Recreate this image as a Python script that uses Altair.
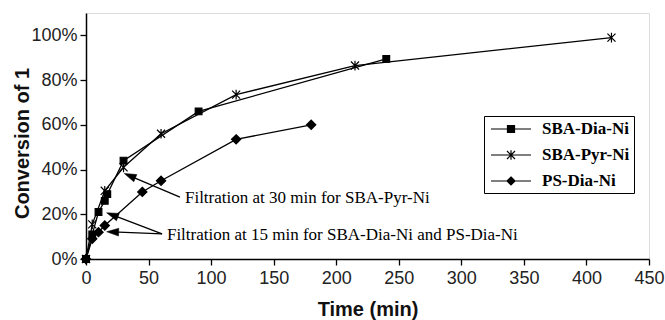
import altair as alt
import pandas as pd

# ---------------- data ----------------
series_names = ["SBA-Dia-Ni", "SBA-Pyr-Ni", "PS-Dia-Ni"]

dia_t = [0, 5, 10, 15, 17, 30, 90, 240]
dia_v = [0, 0.11, 0.21, 0.26, 0.29, 0.44, 0.66, 0.895]

pyr_t = [0, 5, 15, 30, 60, 120, 215, 420]
pyr_v = [0, 0.155, 0.305, 0.41, 0.56, 0.735, 0.865, 0.99]

ps_t = [0, 5, 10, 15, 45, 60, 120, 180]
ps_v = [0, 0.09, 0.12, 0.15, 0.30, 0.35, 0.535, 0.60]

x_ticks = [0, 50, 100, 150, 200, 250, 300, 350, 400, 450]
y_ticks = [0, 0.2, 0.4, 0.6, 0.8, 1.0]

note_text = ["Filtration at 30 min for SBA-Pyr-Ni",
             "Filtration at 15 min for SBA-Dia-Ni and PS-Dia-Ni"]
note_t = [79.1, 64.7]
note_v = [0.25, 0.085]

arrow_t = [75.1, 60.8, 60.8]
arrow_v = [0.277, 0.112, 0.112]
arrow_t2 = [35.0, 21.0, 21.3]
arrow_v2 = [0.372, 0.197, 0.121]
head_angle = [293, 291, 272]

# ---------------- tables ----------------
rows = []
for name, ts, vs in zip(series_names, [dia_t, pyr_t, ps_t], [dia_v, pyr_v, ps_v]):
    for t, v in zip(ts, vs):
        rows.append({"series": name, "t": t, "v": v})
df = pd.DataFrame(rows)

notes = pd.DataFrame({"text": note_text, "t": note_t, "v": note_v})
arrows = pd.DataFrame({"t": arrow_t, "v": arrow_v, "t2": arrow_t2,
                       "v2": arrow_v2, "angle": head_angle})

marker_paths = [
    "M-1,-1H1V1H-1Z",
    "M-1,-1L1,1M-1,1L1,-1M0,-1.2V1.2",
    "M0,-1L1,0L0,1L-1,0Z",
]
marker_sizes = [45, 85, 60]
legend_paths = [
    "M-2.5,0H2.5M-0.44,-0.44H0.44V0.44H-0.44Z",
    "M-2.5,0H2.5M-0.5,-0.5L0.5,0.5M-0.5,0.5L0.5,-0.5M0,-0.6V0.6",
    "M-2.5,0H2.5M0,-0.5L0.5,0L0,0.5L-0.5,0Z",
]

xscale = alt.Scale(domain=[0, 450], nice=False)
yscale = alt.Scale(domain=[0, 1.1], nice=False)

xaxis = alt.Axis(values=x_ticks, title="Time (min)", grid=False,
                 domainColor="black", domainWidth=1.5, tickColor="black",
                 tickWidth=1.3, tickSize=6, labelFont="Liberation Sans",
                 labelFontSize=18, labelColor="#222", labelPadding=4,
                 labelFlush=False,
                 titleFont="Liberation Sans", titleFontSize=20,
                 titleFontWeight="bold", titleColor="#111",
                 titleBaseline="alphabetic", titleY=56)
yaxis = alt.Axis(values=y_ticks, format=".0%", title="Conversion of 1",
                 grid=False, domainColor="black", domainWidth=1.5,
                 tickColor="black", tickWidth=1.3, tickSize=6,
                 labelFont="Liberation Sans", labelFontSize=18,
                 labelColor="#222", labelPadding=3,
                 titleFont="Liberation Sans", titleFontSize=20,
                 titleFontWeight="bold", titleColor="#111",
                 titleBaseline="alphabetic", titleX=-58, titleY=130)

base = alt.Chart(df)

lines = base.mark_line(color="black", strokeWidth=1.3).encode(
    x=alt.X("t:Q", scale=xscale, axis=xaxis),
    y=alt.Y("v:Q", scale=yscale, axis=yaxis),
    detail="series:N",
    order="t:Q",
)

points = base.mark_point(filled=True, fill="black", stroke="black",
                         strokeWidth=1.2, opacity=1).encode(
    x=alt.X("t:Q", scale=xscale),
    y=alt.Y("v:Q", scale=yscale),
    shape=alt.Shape("series:N", scale=alt.Scale(domain=series_names, range=marker_paths), legend=None),
    size=alt.Size("series:N", scale=alt.Scale(domain=series_names, range=marker_sizes), legend=None),
)

legend_def = alt.Legend(title=None, orient="none", legendX=398, legendY=103,
                        strokeColor="black", padding=4,
                        symbolSize=256, symbolOffset=14, labelOffset=22,
                        labelFont="Liberation Serif", labelFontSize=17,
                        labelFontWeight="bold", labelColor="black",
                        rowPadding=9, symbolStrokeWidth=1.2,
                        fillColor="white", labelLimit=0)

legend_layer = base.transform_filter("datum.t < 0").mark_point(
    filled=False, color="black", strokeWidth=1.2, opacity=1).encode(
    x=alt.X("t:Q", scale=xscale),
    y=alt.Y("v:Q", scale=yscale),
    fill=alt.value("black"),
    stroke=alt.value("black"),
    shape=alt.Shape("series:N", scale=alt.Scale(domain=series_names, range=legend_paths), legend=legend_def),
)

arrow_lines = alt.Chart(arrows).mark_rule(color="black", strokeWidth=1.3).encode(
    x=alt.X("t:Q", scale=xscale), y=alt.Y("v:Q", scale=yscale),
    x2="t2:Q", y2="v2:Q",
)
arrow_heads = alt.Chart(arrows).mark_point(
    filled=True, fill="black", stroke="black", strokeWidth=0.5, opacity=1,
    shape="M0,-1L0.65,1L-0.65,1Z", size=144).encode(
    x=alt.X("t2:Q", scale=xscale), y=alt.Y("v2:Q", scale=yscale),
    angle=alt.Angle("angle:Q", scale=None),
)

texts = alt.Chart(notes).mark_text(
    align="left", baseline="alphabetic", font="Liberation Serif",
    fontSize=17, color="black").encode(
    x=alt.X("t:Q", scale=xscale), y=alt.Y("v:Q", scale=yscale),
    text="text:N",
)

chart = alt.layer(lines, points, legend_layer, arrow_lines, arrow_heads, texts).resolve_scale(
    shape="independent", size="independent"
).properties(
    width=563, height=246,
    autosize=alt.AutoSizeParams(type="none"),
    padding={"left": 86, "top": 13, "right": 16, "bottom": 61},
).configure_view(stroke="black", strokeWidth=1.5).configure(background="white")

chart.save("out.html", embed_options={"renderer": "svg", "actions": False})
